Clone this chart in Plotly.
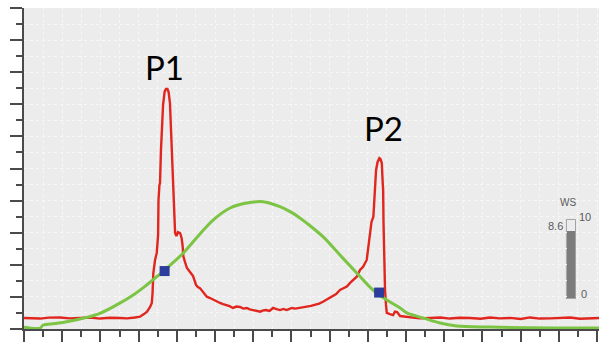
import plotly.graph_objects as go

# ---- data (x in axis tick units, y in axis tick units) ----
red_x = [0, 0.42, 0.84, 1.30, 1.88, 2.40, 2.93, 3.45, 3.98, 4.50, 5.03, 5.40, 5.81, 6.07, 6.28, 6.44,
         6.60, 6.69, 6.73, 6.77, 6.86, 6.95,
         7.02, 7.04, 7.09, 7.12, 7.17, 7.23, 7.28, 7.36, 7.43, 7.51, 7.57, 7.64, 7.70, 7.75, 7.80, 7.85,
         7.91, 7.98, 8.06, 8.17, 8.25, 8.30, 8.34, 8.43, 8.53, 8.69, 8.85, 9.01, 9.10, 9.21, 9.37, 9.57, 9.74,
         9.86, 10.00, 10.13, 10.26, 10.42, 10.58, 10.76, 10.94, 11.12, 11.31, 11.48, 11.66, 11.82, 11.99,
         12.18, 12.36, 12.52, 12.67, 12.85, 13.04, 13.22, 13.40, 13.58, 13.75, 13.90, 14.03, 14.20, 14.35,
         14.58, 14.80, 15.02, 15.24, 15.45, 15.65, 15.84, 16.02, 16.18, 16.34, 16.54, 16.72, 16.90, 17.07,
         17.23, 17.42, 17.59, 17.75, 17.94, 18.01,
         18.12, 18.19, 18.29, 18.35, 18.43, 18.51, 18.60, 18.66, 18.73, 18.77, 18.80, 18.82, 18.85, 18.90,
         18.95, 18.99, 19.16, 19.32, 19.42, 19.53, 19.69, 20.21, 20.70, 21.26, 21.80, 22.30, 22.80, 23.35,
         23.90, 24.40, 24.90, 25.45, 26.00, 26.49, 27.00, 27.54, 28.10, 28.59, 29.10, 29.63, 30.10]
red_y = [0.69, 0.66, 0.65, 0.71, 0.72, 0.66, 0.69, 0.72, 0.65, 0.70, 0.69, 0.66, 0.72, 0.77, 0.93, 1.08,
         1.37, 1.62, 2.24, 3.49, 4.30, 4.74,
         5.86, 8.04, 8.97, 9.10, 11.15, 12.83, 13.96, 14.77, 14.95, 14.95, 14.77, 14.08, 12.40, 9.91, 8.66, 7.10,
         5.98, 5.79, 6.04, 5.98, 5.67, 5.23, 4.55, 4.17, 3.80, 3.55, 3.30, 2.74, 2.62, 2.55, 2.31, 2.01, 1.93,
         1.85, 1.74, 1.69, 1.62, 1.55, 1.50, 1.42, 1.31, 1.40, 1.37, 1.27, 1.31, 1.22, 1.18,
         1.14, 1.08, 1.16, 1.18, 1.12, 1.31, 1.24, 1.18, 1.25, 1.18, 1.26, 1.31, 1.27, 1.31,
         1.36, 1.39, 1.44, 1.50, 1.58, 1.70, 1.82, 1.93, 2.05, 2.18, 2.43, 2.52, 2.64, 2.87,
         3.05, 3.26, 3.68, 3.88, 4.30, 4.92,
         6.17, 6.67, 7.00, 8.35, 9.91, 10.41, 10.65, 10.59, 10.34, 9.28, 8.66, 6.60, 4.61, 2.43,
         1.50, 1.00, 0.93, 0.87, 1.08, 1.06, 0.81, 0.72, 0.66, 0.69, 0.72, 0.65, 0.70, 0.69,
         0.64, 0.72, 0.66, 0.69, 0.62, 0.72, 0.65, 0.66, 0.71, 0.72, 0.64, 0.69, 0.69]

green_x = [0, 0.84, 1.01, 1.62, 2.24, 3.10, 3.98, 4.85, 5.72, 6.42, 6.95, 7.64, 8.34, 9.21, 9.90, 10.79,
           11.66, 12.51, 13.40, 13.93, 14.35, 14.80, 15.65, 16.54, 17.42, 18.27, 18.99, 19.69, 20.04,
           20.89, 21.78, 22.65, 24.40, 27.89, 30.10]
green_y = [0.11, 0.06, 0.25, 0.34, 0.45, 0.67, 0.98, 1.50, 2.12, 2.74, 3.26, 3.96, 4.74, 5.92, 6.79, 7.54,
           7.85, 7.93, 7.62, 7.31, 7.00, 6.60, 5.75, 4.61, 3.49, 2.43, 1.81, 1.31, 1.00,
           0.69, 0.37, 0.19, 0.12, 0.06, 0.06]

marker_x = [7.36, 18.59]
marker_y = [3.61, 2.27]

peak_labels = ["P1", "P2"]
peak_label_x = [7.38, 18.80]
peak_label_y = [16.32, 12.55]

ws_value = 8.6
ws_max = 10

# ---- figure ----
fig = go.Figure()

fig.add_trace(go.Scatter(x=red_x, y=red_y, mode="lines",
                         line=dict(color="#e0261f", width=2.4), hoverinfo="skip"))
fig.add_trace(go.Scatter(x=green_x, y=green_y, mode="lines",
                         line=dict(color="#7cc443", width=3, shape="spline"), hoverinfo="skip"))
fig.add_trace(go.Scatter(x=marker_x, y=marker_y, mode="markers",
                         marker=dict(symbol="square", size=10, color="#2b3c9c"), hoverinfo="skip"))

# WS gauge
fig.add_trace(go.Bar(x=[0], y=[ws_value], width=1, xaxis="x2", yaxis="y2",
                     marker=dict(color="#7c7c7c", line=dict(width=0)), hoverinfo="skip"))

fig.add_shape(type="rect", xref="x2 domain", yref="y2 domain", x0=0, x1=1, y0=0, y1=1,
              line=dict(color="#8a8a8a", width=1.5), fillcolor="white", layer="below")

for t, x, y in zip(peak_labels, peak_label_x, peak_label_y):
    fig.add_annotation(x=x, y=y, text=t, showarrow=False,
                       font=dict(family="Lato", size=33, color="black"))

gfont = dict(family="Liberation Sans", size=11, color="#5a5a5a")
fig.add_annotation(xref="x2", yref="y2", x=0.5, y=ws_max, text=str(ws_max), showarrow=False,
                   xanchor="left", yanchor="middle", xshift=2, yshift=3, font=gfont)
fig.add_annotation(xref="x2", yref="y2", x=0.5, y=0, text="0", showarrow=False,
                   xanchor="left", yanchor="middle", xshift=4, yshift=4, font=gfont)
fig.add_annotation(xref="x2", yref="y2", x=-0.5, y=ws_value, text=str(ws_value), showarrow=False,
                   xanchor="right", yanchor="middle", xshift=-2, yshift=5, font=gfont)
fig.add_annotation(xref="x2", yref="y2", x=-0.3, y=ws_max, text="WS", showarrow=False,
                   xanchor="center", yanchor="bottom", yshift=10,
                   font=dict(family="Liberation Sans", size=10, color="#5a5a5a"))

axis_common = dict(showticklabels=False, showline=True, linecolor="#4a4a4a", linewidth=1.5,
                   ticks="outside", ticklen=12, tickcolor="#4a4a4a", tickwidth=1.5,
                   dtick=2, tick0=0, zeroline=False,
                   showgrid=True, gridcolor="#f7f7f7", griddash="dot", gridwidth=1,
                   minor=dict(dtick=1, ticks="outside", ticklen=6, tickcolor="#4a4a4a", tickwidth=1.5,
                              showgrid=True, gridcolor="#f7f7f7", griddash="dot", gridwidth=1),
                   fixedrange=True)

fig.update_layout(
    width=599, height=342,
    margin=dict(l=24, r=0, t=8, b=13),
    paper_bgcolor="white", plot_bgcolor="#ececec",
    showlegend=False,
    xaxis=dict(range=[0, 30.1], **axis_common),
    yaxis=dict(range=[0, 20], **axis_common),
    xaxis2=dict(domain=[0.9438, 0.9583], range=[-0.5, 0.5], anchor="y2", visible=False, fixedrange=True),
    yaxis2=dict(domain=[0.0956, 0.3396], range=[0, ws_max], anchor="x2", visible=False, fixedrange=True),
    bargap=0,
)

fig.write_html("out.html", config={"displayModeBar": False})
